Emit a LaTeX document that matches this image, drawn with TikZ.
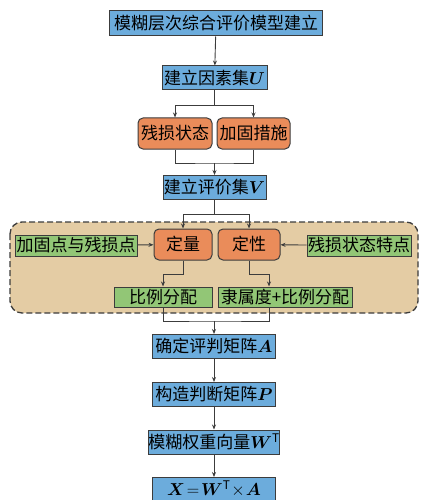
\documentclass[tikz,border=0pt]{standalone}
\usepackage{fontspec}
\setmainfont{Noto Sans CJK SC}
\usepackage{amsmath}
\usepackage{bm}
\usetikzlibrary{arrows.meta}
\definecolor{stepblue}{RGB}{108,172,220}
\definecolor{steporange}{RGB}{234,140,90}
\definecolor{stepgreen}{RGB}{146,198,118}
\definecolor{zonetan}{RGB}{228,204,164}
\definecolor{linegray}{RGB}{60,60,60}

\begin{document}
\begin{tikzpicture}[x=1pt, y=-1pt, font=\fontsize{17}{20}\selectfont,
  bluebox/.style={draw=linegray, line width=1pt, fill=stepblue, inner sep=0pt, minimum height=24pt},
  orangebox/.style={draw=linegray, line width=1pt, fill=steporange, rounded corners=5pt, inner sep=0pt, minimum height=31pt},
  greenbox/.style={draw=linegray, line width=1pt, fill=stepgreen, inner sep=0pt, minimum height=21pt},
  link/.style={draw=linegray, line width=0.9pt},
  arr/.style={link, -{Stealth[length=5pt, width=4pt]}}]
 \useasboundingbox (0,0) rectangle (420,500);

 \draw[fill=zonetan, draw=linegray, line width=1.3pt, dash pattern=on 6pt off 3pt, rounded corners=12pt] (10,222) rectangle (418,313);

 \node[bluebox, minimum width=213pt, minimum height=25pt] (top) at (216,23.5) {模糊层次综合评价模型建立};
 \node[bluebox, minimum width=105pt] (U) at (214.5,78) {建立因素集$\bm{U}$};
 \node[orangebox, minimum width=74pt] (c1) at (175,133.5) {残损状态};
 \node[orangebox, minimum width=73pt] (c2) at (253.5,133.5) {加固措施};
 \node[bluebox, minimum width=103pt] (V) at (214.5,187.5) {建立评价集$\bm{V}$};

 \node[orangebox, minimum width=58pt] (dl) at (183,244.5) {定量};
 \node[orangebox, minimum width=62pt] (dx) at (249,244.5) {定性};
 \node[greenbox, minimum width=122pt] (gl) at (76,245.5) {加固点与残损点};
 \node[greenbox, minimum width=104pt] (gr) at (359,245.5) {残损状态特点};
 \node[greenbox, minimum width=98pt, minimum height=20pt] (bl) at (163,297) {比例分配};
 \node[greenbox, minimum width=134pt, minimum height=20pt] (ls) at (285,297) {隶属度+比例分配};

 \node[bluebox, minimum width=123pt] (A) at (214,346.5) {确定评判矩阵$\bm{A}$};
 \node[bluebox, minimum width=123pt] (P) at (214,394.5) {构造判断矩阵$\bm{P}$};
 \node[bluebox, minimum width=123pt] (W) at (214,442) {模糊权重向量$\bm{W}^{\mathrm{T}}$};
 \node[bluebox, minimum width=123pt, minimum height=23pt] (X) at (214,489) {$\bm{X}\!=\!\bm{W}^{\mathrm{T}}\!\times\!\bm{A}$};

 \coordinate (s1) at (214.5,105);
 \coordinate (s2) at (214.5,163);
 \coordinate (s3) at (214.5,214);
 \coordinate (s4) at (214,321);

 \draw[arr] (top) -- (U);
 \draw[link] (U) -- (s1);
 \draw[arr] (s1) -| (c1);
 \draw[arr] (s1) -| (c2);
 \draw[link] (c1.south) |- (s2) -| (c2.south);
 \draw[arr] (s2) -- (V);
 \draw[link] (V) -- (s3);
 \draw[arr] (s3) -| (dl);
 \draw[arr] (s3) -| (dx);
 \draw[arr] (gl) -- (dl);
 \draw[arr] (gr) -- (dx);
 \draw[arr] (dl.south) -- ++(0,14) -| (bl.north);
 \draw[arr] (dx.south) -- ++(0,14) -| ([xshift=-16pt]ls.north);
 \draw[link] (bl.south) |- (s4) -| ([xshift=-16pt]ls.south);
 \draw[arr] (s4) -- (A);
 \draw[arr] (A) -- (P);
 \draw[arr] (P) -- (W);
 \draw[arr] (W) -- (X);
\end{tikzpicture}
\end{document}
